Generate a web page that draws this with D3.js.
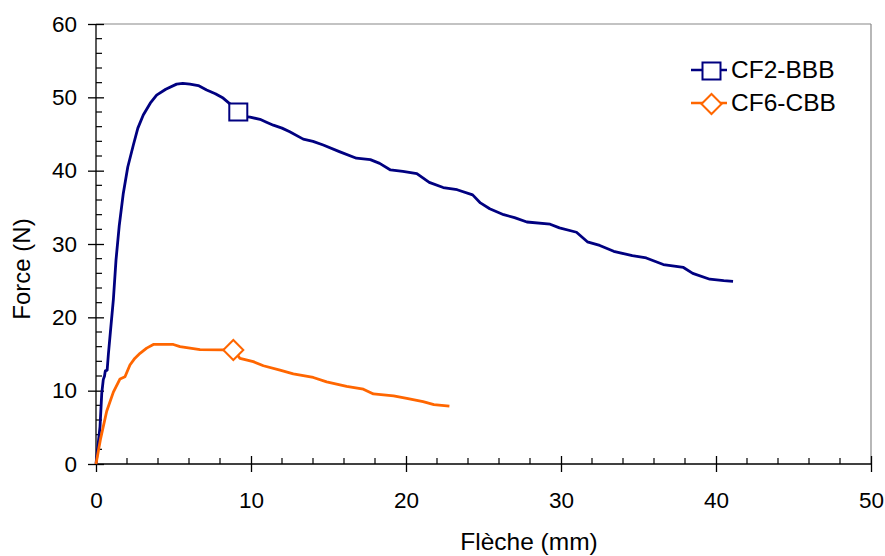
<!DOCTYPE html>
<html><head><meta charset="utf-8">
<script src="https://cdn.jsdelivr.net/npm/d3@7"></script>
<style>body{margin:0;background:#fff}text{font-family:"Liberation Sans",Arial,sans-serif;fill:#000}</style>
</head><body><svg id="c" width="885" height="556"></svg>
<script>
const seriesNames = ["CF2-BBB", "CF6-CBB"];
const seriesColors = ["#000080", "#FF6600"];
const cf2X = [0,0.1,0.26,0.37,0.47,0.55,0.6,0.72,0.8,0.95,1.12,1.29,1.5,1.76,2.05,2.41,2.7,3.05,3.5,3.91,4.5,5.2,5.6,6.06,6.6,7.14,7.7,8.2,8.7,9.18,9.5,9.94,10.58,11.0,11.44,12.0,12.5,13.37,14.0,14.66,15.7,16.8,17.7,18.3,19.0,19.8,20.7,21.5,22.4,23.3,24.3,24.8,25.4,26.3,27.0,27.8,29.3,29.9,31.0,31.7,32.5,33.4,34.6,35.5,36.6,37.9,38.5,39.6,40.5,41.1];
const cf2Y = [0,2.0,5.1,9.6,11.5,12.0,12.7,12.8,15.0,18.5,22.4,27.8,32.5,36.9,40.5,43.5,45.8,47.6,49.2,50.3,51.1,51.8,51.9,51.8,51.6,51.0,50.5,49.9,49.0,48.0,47.4,47.3,47.0,46.6,46.2,45.8,45.3,44.3,44.0,43.5,42.6,41.7,41.5,41.0,40.1,39.9,39.6,38.4,37.7,37.4,36.7,35.6,34.8,34.0,33.6,33.0,32.7,32.2,31.6,30.3,29.8,29.0,28.4,28.1,27.2,26.8,26.0,25.2,25.0,24.9];
const cf6X = [0,0.3,0.69,1.12,1.55,1.87,2.19,2.5,2.84,3.27,3.7,4.99,5.42,6.71,8.21,8.86,9.29,10.15,10.8,11.87,12.73,14.02,14.88,16.17,17.25,17.9,19.2,20.05,21.1,21.8,22.8];
const cf6Y = [0,3.5,7.2,9.8,11.6,11.9,13.5,14.4,15.1,15.8,16.3,16.3,16.0,15.6,15.55,15.55,14.4,13.96,13.4,12.8,12.3,11.8,11.2,10.6,10.2,9.55,9.3,8.96,8.5,8.1,7.9];
const markerX = [9.18, 8.86];
const markerY = [48.0, 15.55];
const xTicks = [0,10,20,30,40,50];
const yTicks = [0,10,20,30,40,50,60];
const xTitle = "Flèche (mm)";
const yTitle = "Force (N)";

const svg = d3.select("#c");
const x = d3.scaleLinear().domain([0,50]).range([96,871]);
const y = d3.scaleLinear().domain([0,60]).range([464,24]);

svg.append("line").attr("x1",x(0)).attr("x2",x(50)).attr("y1",y(60)).attr("y2",y(60)).attr("stroke","#888").attr("stroke-width",1.2);
svg.append("line").attr("x1",x(50)).attr("x2",x(50)).attr("y1",y(60)).attr("y2",y(0)).attr("stroke","#888").attr("stroke-width",1.2);

const minorX = d3.range(0,50.01,2).filter(v=>v%10!==0);
const minorY = d3.range(0,60.01,2).filter(v=>v%10!==0);
const gx = svg.append("g").attr("transform",`translate(0,${y(0)})`);
gx.call(d3.axisBottom(x).tickValues(xTicks).tickSize(8).tickPadding(20).tickFormat(d3.format("d")));
gx.selectAll(".tick line").attr("y1",-8).attr("y2",8);
gx.selectAll(".tick line, .domain").attr("stroke","#000").attr("stroke-width",1.3);
gx.select(".domain").attr("d",`M${x(0)},0H${x(50)}`);
gx.selectAll("text").attr("font-size",22.5).attr("dy","0.35em").attr("y",36);
gx.selectAll(".minor").data(minorX).join("line").attr("x1",d=>x(d)).attr("x2",d=>x(d)).attr("y1",-6).attr("y2",0).attr("stroke","#000").attr("stroke-width",1.2);

const gy = svg.append("g").attr("transform",`translate(${x(0)},0)`);
gy.call(d3.axisLeft(y).tickValues(yTicks).tickSize(8).tickPadding(11).tickFormat(d3.format("d")));
gy.selectAll(".tick line").attr("x1",-8).attr("x2",8);
gy.selectAll(".tick line, .domain").attr("stroke","#000").attr("stroke-width",1.3);
gy.select(".domain").attr("d",`M0,${y(0)}V${y(60)}`);
gy.selectAll("text").attr("font-size",22.5).attr("x",-19);
gy.selectAll(".minor").data(minorY).join("line").attr("y1",d=>y(d)).attr("y2",d=>y(d)).attr("x1",0).attr("x2",6).attr("stroke","#000").attr("stroke-width",1.2);
svg.selectAll(".domain").attr("fill","none");

svg.append("text").attr("x",529).attr("y",550).attr("text-anchor","middle").attr("font-size",24.5).text(xTitle);
svg.append("text").attr("transform","translate(30,269) rotate(-90)").attr("text-anchor","middle").attr("font-size",24).text(yTitle);

const line = d3.line().x(d=>x(d[0])).y(d=>y(d[1]));
const data = [d3.zip(cf2X,cf2Y), d3.zip(cf6X,cf6Y)];
data.forEach((d,i)=>{
  svg.append("path").datum(d).attr("d",line).attr("fill","none").attr("stroke",seriesColors[i]).attr("stroke-width",2.8).attr("stroke-linejoin","round");
});
function marker(g, i, cx, cy){
  if(i===0){
    g.append("rect").attr("x",cx-9).attr("y",cy-8.5).attr("width",18).attr("height",17).attr("fill","#fff").attr("stroke",seriesColors[0]).attr("stroke-width",2);
  } else {
    g.append("path").attr("d",`M${cx-10},${cy}L${cx},${cy-10}L${cx+10},${cy}L${cx},${cy+10}Z`).attr("fill","#fff").attr("stroke",seriesColors[1]).attr("stroke-width",2);
  }
}
markerX.forEach((mx,i)=>marker(svg,i,x(mx),y(markerY[i])));

const legY = [70, 103];
seriesNames.forEach((n,i)=>{
  svg.append("line").attr("x1",691).attr("x2",727).attr("y1",legY[i]).attr("y2",legY[i]).attr("stroke",seriesColors[i]).attr("stroke-width",2.6);
  marker(svg,i,711.5,legY[i]+1);
  svg.append("text").attr("x",731).attr("y",legY[i]+7.5).attr("font-size",24.5).text(n);
});
</script></body></html>
